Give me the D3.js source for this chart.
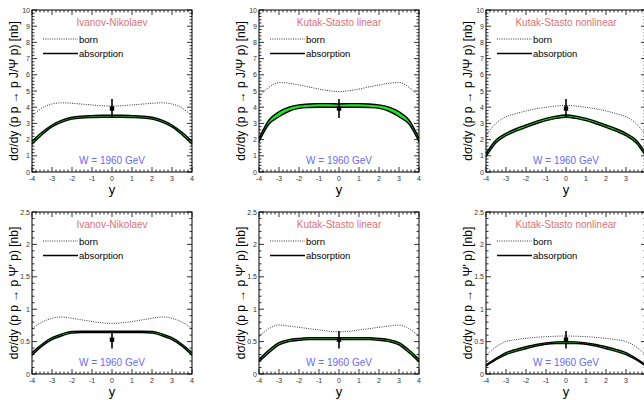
<!DOCTYPE html>
<html><head><meta charset="utf-8">
<script src="https://cdn.jsdelivr.net/npm/d3@7"></script>
<style>body{margin:0;background:#fff}svg{display:block}text{font-family:"Liberation Sans",Arial,sans-serif}</style>
</head><body><svg id="c" width="644" height="400"></svg>
<script>
const rapidity = [-4,-3.5,-3,-2.5,-2,-1.5,-1,-0.5,0,0.5,1,1.5,2,2.5,3,3.5,4];
const modelNames = ["Ivanov-Nikolaev","Kutak-Stasto linear","Kutak-Stasto nonlinear"];
const yTitles = ["dσ/dy (p p → p J/Ψ p) [nb]","dσ/dy (p p → p Ψ' p) [nb]"];
const yMax = [10, 2.5];
const yMajor = [[0,1,2,3,4,5,6,7,8,9,10],[0,0.5,1,1.5,2,2.5]];
const yMajorLabels = [["0","1","2","3","4","5","6","7","8","9","10"],["0","0.5","1","1.5","2","2.5"]];
const xMajor = [-4,-3,-2,-1,0,1,2,3,4];
const xMajorLabels = ["-4","-3","-2","-1","0","1","2","3","4"];
const energyLabel = "W = 1960 GeV";
const legendLabels = ["born","absorption"];
// CDF data point at y=0
const dataJpsi = {y:0, value:3.92, err:0.58};
const dataPsi2 = {y:0, value:0.53, err:0.135};

// J/psi, Ivanov-Nikolaev
const bornJpsiIN  = [3.46,3.95,4.2,4.27,4.24,4.19,4.14,4.09,4.07,4.09,4.14,4.19,4.24,4.27,4.2,3.95,3.46];
const absHiJpsiIN = [1.9,2.45,2.9,3.2,3.38,3.45,3.48,3.5,3.5,3.5,3.48,3.45,3.38,3.2,2.9,2.45,1.9];
const absLoJpsiIN = [1.72,2.3,2.78,3.08,3.26,3.33,3.36,3.38,3.38,3.38,3.36,3.33,3.26,3.08,2.78,2.3,1.72];
// J/psi, Kutak-Stasto linear
const bornJpsiKSL  = [4.65,5.23,5.52,5.48,5.37,5.25,5.12,5.02,4.96,5.02,5.12,5.25,5.37,5.48,5.52,5.23,4.65];
const absHiJpsiKSL = [2.08,3.21,3.72,4.0,4.14,4.2,4.22,4.22,4.2,4.22,4.22,4.2,4.14,4.0,3.72,3.21,2.08];
const absLoJpsiKSL = [1.87,2.96,3.41,3.75,3.93,3.98,4.0,4.0,4.0,4.0,4.0,3.98,3.93,3.75,3.41,2.96,1.87];
// J/psi, Kutak-Stasto nonlinear
const bornJpsiKSN  = [2.25,3.0,3.41,3.6,3.77,3.9,3.99,4.07,4.11,4.07,3.99,3.9,3.77,3.6,3.41,3.0,2.25];
const absHiJpsiKSN = [1.15,1.98,2.39,2.67,2.9,3.12,3.31,3.45,3.52,3.45,3.31,3.12,2.9,2.67,2.39,1.98,1.15];
const absLoJpsiKSN = [0.95,1.81,2.24,2.52,2.76,2.98,3.17,3.31,3.38,3.31,3.17,2.98,2.76,2.52,2.24,1.81,0.95];
// psi(2S), Ivanov-Nikolaev
const bornPsi2IN  = [0.70,0.80,0.86,0.88,0.86,0.835,0.81,0.79,0.78,0.79,0.81,0.835,0.86,0.88,0.86,0.80,0.70];
const absHiPsi2IN = [0.33,0.46,0.56,0.62,0.655,0.66,0.66,0.66,0.66,0.66,0.66,0.66,0.655,0.62,0.56,0.46,0.33];
const absLoPsi2IN = [0.29,0.43,0.53,0.59,0.63,0.64,0.64,0.64,0.64,0.64,0.64,0.64,0.63,0.59,0.53,0.43,0.29];
// psi(2S), Kutak-Stasto linear
const bornPsi2KSL  = [0.58,0.70,0.756,0.74,0.72,0.70,0.68,0.66,0.65,0.66,0.68,0.70,0.72,0.74,0.756,0.70,0.58];
const absHiPsi2KSL = [0.227,0.37,0.483,0.53,0.55,0.56,0.56,0.56,0.56,0.56,0.56,0.56,0.55,0.53,0.483,0.37,0.227];
const absLoPsi2KSL = [0.19,0.33,0.45,0.50,0.52,0.53,0.53,0.53,0.53,0.53,0.53,0.53,0.52,0.50,0.45,0.33,0.19];
// psi(2S), Kutak-Stasto nonlinear
const bornPsi2KSN  = [0.29,0.42,0.50,0.53,0.55,0.565,0.576,0.583,0.586,0.583,0.576,0.565,0.55,0.53,0.50,0.42,0.29];
const absHiPsi2KSN = [0.139,0.24,0.33,0.38,0.42,0.455,0.48,0.495,0.5,0.495,0.48,0.455,0.42,0.38,0.33,0.24,0.139];
const absLoPsi2KSN = [0.12,0.22,0.30,0.35,0.39,0.43,0.46,0.47,0.47,0.47,0.46,0.43,0.39,0.35,0.30,0.22,0.12];

const panels = [
  {row:0,col:0,born:bornJpsiIN,hi:absHiJpsiIN,lo:absLoJpsiIN,pt:dataJpsi},
  {row:0,col:1,born:bornJpsiKSL,hi:absHiJpsiKSL,lo:absLoJpsiKSL,pt:dataJpsi},
  {row:0,col:2,born:bornJpsiKSN,hi:absHiJpsiKSN,lo:absLoJpsiKSN,pt:dataJpsi},
  {row:1,col:0,born:bornPsi2IN,hi:absHiPsi2IN,lo:absLoPsi2IN,pt:dataPsi2},
  {row:1,col:1,born:bornPsi2KSL,hi:absHiPsi2KSL,lo:absLoPsi2KSL,pt:dataPsi2},
  {row:1,col:2,born:bornPsi2KSN,hi:absHiPsi2KSN,lo:absLoPsi2KSN,pt:dataPsi2}
];

const svg = d3.select("#c");
svg.append("rect").attr("width",644).attr("height",400).attr("fill","#fff");
const colLeft = [32,259,486], rowTop = [10,212], W = 160, H = 162;

panels.forEach(p => {
  const x0 = colLeft[p.col], y0 = rowTop[p.row];
  const g = svg.append("g").attr("transform",`translate(${x0},${y0})`);
  const x = d3.scaleLinear().domain([-4,4]).range([0,W]);
  const y = d3.scaleLinear().domain([0,yMax[p.row]]).range([H,0]);
  const step = p.row===0 ? 0.2 : 0.1;
  const yMinor = d3.range(0, yMax[p.row]+1e-9, step);
  const xMinor = d3.range(-4, 4+1e-9, 0.2);

  // band
  const pts = rapidity.map((r,i)=>({r,hi:p.hi[i],lo:p.lo[i],b:p.born[i]}));
  const area = d3.area().x(d=>x(d.r)).y0(d=>y(d.lo)).y1(d=>y(d.hi)).curve(d3.curveMonotoneX);
  g.append("path").attr("d",area(pts)).attr("fill","#1ee61e");
  const lineHi = d3.line().x(d=>x(d.r)).y(d=>y(d.hi)).curve(d3.curveMonotoneX);
  const lineLo = d3.line().x(d=>x(d.r)).y(d=>y(d.lo)).curve(d3.curveMonotoneX);
  g.append("path").attr("d",lineHi(pts)).attr("fill","none").attr("stroke","#000").attr("stroke-width",1.4);
  g.append("path").attr("d",lineLo(pts)).attr("fill","none").attr("stroke","#000").attr("stroke-width",1.4);
  const lineB = d3.line().x(d=>x(d.r)).y(d=>y(d.b)).curve(d3.curveMonotoneX);
  g.append("path").attr("d",lineB(pts)).attr("fill","none").attr("stroke","#000").attr("stroke-width",0.8).attr("stroke-dasharray","1,1.3");

  // data point
  g.append("line").attr("x1",x(p.pt.y)).attr("x2",x(p.pt.y))
    .attr("y1",y(p.pt.value-p.pt.err)).attr("y2",y(p.pt.value+p.pt.err))
    .attr("stroke","#000").attr("stroke-width",1.6);
  g.append("rect").attr("x",x(p.pt.y)-2.2).attr("y",y(p.pt.value)-2.2).attr("width",4.4).attr("height",4.4).attr("fill","#000");

  // frame
  g.append("rect").attr("x",0).attr("y",0).attr("width",W).attr("height",H).attr("fill","none").attr("stroke","#000").attr("stroke-width",1);

  // ticks
  const tk = g.append("g").attr("stroke","#000").attr("stroke-width",0.8);
  const isMajorY = v => yMajor[p.row].some(m=>Math.abs(m-v)<1e-6);
  yMinor.forEach(v=>{
    const L = isMajorY(v)?5:2.5;
    tk.append("line").attr("x1",0).attr("x2",L).attr("y1",y(v)).attr("y2",y(v));
    tk.append("line").attr("x1",W).attr("x2",W-L).attr("y1",y(v)).attr("y2",y(v));
  });
  xMinor.forEach(v=>{
    const L = xMajor.some(m=>Math.abs(m-v)<1e-6)?5:2.5;
    tk.append("line").attr("y1",H).attr("y2",H-L).attr("x1",x(v)).attr("x2",x(v));
    tk.append("line").attr("y1",0).attr("y2",L).attr("x1",x(v)).attr("x2",x(v));
  });
  // tick labels
  yMajor[p.row].forEach((v,i)=>{
    g.append("text").attr("x",-2).attr("y",y(v)+2.5).attr("text-anchor","end")
      .attr("font-size",7).attr("fill","#333").text(yMajorLabels[p.row][i]);
  });
  xMajor.forEach((v,i)=>{
    g.append("text").attr("x",x(v)).attr("y",H+9).attr("text-anchor","middle")
      .attr("font-size",7).attr("fill","#333").text(xMajorLabels[i]);
  });
  // axis titles
  g.append("text").attr("x",W/2).attr("y",H+22).attr("text-anchor","middle").attr("font-size",13).attr("fill","#000").text("y");
  g.append("text").attr("transform",`translate(-14,${H/2}) rotate(-90)`).attr("text-anchor","middle")
    .attr("font-size",12).attr("fill","#000").text(yTitles[p.row]);

  // title and energy
  g.append("text").attr("x",W/2).attr("y",15.5).attr("text-anchor","middle").attr("font-size",10).attr("fill","#e07078").text(modelNames[p.col]);
  g.append("text").attr("x",W/2).attr("y",154).attr("text-anchor","middle").attr("font-size",10).attr("fill","#6b6bef").text(energyLabel);

  // legend
  g.append("line").attr("x1",11).attr("x2",46).attr("y1",29).attr("y2",29).attr("stroke","#000").attr("stroke-width",0.8).attr("stroke-dasharray","1,1.3");
  g.append("line").attr("x1",11).attr("x2",46).attr("y1",43.5).attr("y2",43.5).attr("stroke","#000").attr("stroke-width",1.6);
  g.append("text").attr("x",47).attr("y",32.5).attr("font-size",9.5).attr("fill","#000").text(legendLabels[0]);
  g.append("text").attr("x",47).attr("y",47).attr("font-size",9.5).attr("fill","#000").text(legendLabels[1]);
});
</script></body></html>
